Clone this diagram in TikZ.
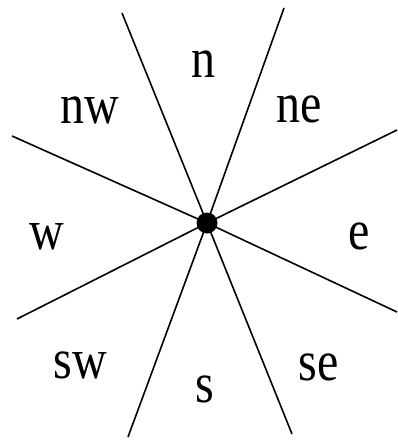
\documentclass[tikz,border=0pt]{standalone}
\usepackage{graphicx}
\usepackage{fontspec}
\setmainfont{Liberation Serif}
\newcommand{\tall}[1]{\scalebox{1}[1.18]{#1}}

\begin{document}
\begin{tikzpicture}[
  x=1pt, y=-1pt,
  line width=1.6pt,
  every node/.style={font=\fontsize{48}{52}\selectfont, inner sep=0pt}
]
  \useasboundingbox (0,0) rectangle (398,442);

  % Centre and ends of the rays
  \coordinate (c) at (207,223);
  \coordinate (topL) at (122,13);
  \coordinate (topR) at (284,8);
  \coordinate (rightU) at (397,130);
  \coordinate (rightD) at (397,312);
  \coordinate (botR) at (292,434);
  \coordinate (botL) at (128,437);
  \coordinate (leftD) at (17,319);
  \coordinate (leftU) at (12,136);

  % Rays
  \draw (c) -- (topL);
  \draw (c) -- (topR);
  \draw (c) -- (rightU);
  \draw (c) -- (rightD);
  \draw (c) -- (botR);
  \draw (c) -- (botL);
  \draw (c) -- (leftD);
  \draw (c) -- (leftU);

  % Centre point
  \node (dot) [circle, fill, minimum size=21pt] at (c) {};

  % Direction labels
  \node (lblN) at (203.5,64) {\tall{n}};
  \node (lblNE) at (299,109) {\tall{ne}};
  \node (lblE) at (359.5,236) {\tall{e}};
  \node (lblSE) at (318.5,367) {\tall{se}};
  \node (lblS) at (205,389) {\tall{s}};
  \node (lblSW) at (80,365) {\tall{sw}};
  \node (lblW) at (47,237) {\tall{w}};
  \node (lblNW) at (89.5,110) {\tall{nw}};
\end{tikzpicture}
\end{document}
